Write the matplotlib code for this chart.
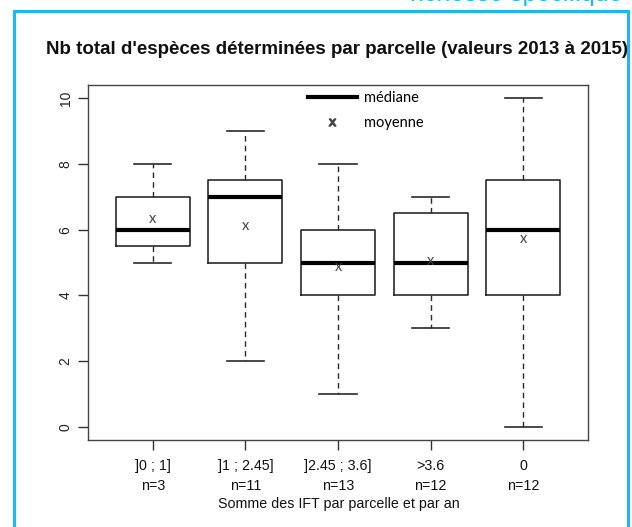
import matplotlib
matplotlib.use("Agg")
import matplotlib.pyplot as plt
from matplotlib.patches import Rectangle
from matplotlib.lines import Line2D

# IFT classes and their box statistics
classes = ["]0 ; 1]", "]1 ; 2.45]", "]2.45 ; 3.6]", ">3.6", "0"]
counts = [3, 11, 13, 12, 12]
whisker_low = [5, 2, 1, 3, 0]
q1 = [5.5, 5, 4, 4, 4]
medians = [6, 7, 5, 5, 6]
q3 = [7, 7.5, 6, 6.5, 7.5]
whisker_high = [8, 9, 8, 7, 10]
means = [6.33, 6.12, 4.85, 5.05, 5.7]

W, H = 632, 527
fig = plt.figure(figsize=(W / 100, H / 100), dpi=100)
fig.patch.set_facecolor("white")

# cyan frame of the slide
fig.patches.append(Rectangle((14 / W, -0.05), (628 - 14) / W, (H - 11) / H + 0.05,
                             transform=fig.transFigure, fill=False,
                             edgecolor="#1cb8f0", lw=2.2))
fig.text(410 / W, (H - 0.6) / H, "richesse spécifique", color="#1cb8f0",
         fontsize=18, family="Liberation Sans", ha="left", va="baseline")

ax = fig.add_axes([88 / W, (H - 440) / H, (588 - 88) / W, (440 - 85) / H])

stats = []
for i in range(len(classes)):
    stats.append({"whislo": whisker_low[i], "q1": q1[i], "med": medians[i],
                  "q3": q3[i], "whishi": whisker_high[i], "fliers": []})

box_col = "#2a2a2a"
ax.bxp(stats, positions=range(1, len(classes) + 1), widths=0.8,
       showfliers=False, patch_artist=False,
       boxprops=dict(color=box_col, lw=1.2),
       whiskerprops=dict(color=box_col, lw=1.0, ls=(0, (4, 3))),
       capprops=dict(color=box_col, lw=1.2),
       medianprops=dict(color="black", lw=3.0))
# caps are half the box width
for line in ax.lines:
    xd = line.get_xdata()
    if len(xd) == 2 and xd[0] != xd[1]:
        yd = line.get_ydata()
        if yd[0] == yd[1] and abs(xd[1] - xd[0]) < 0.5:
            c = (xd[0] + xd[1]) / 2
            line.set_xdata([c - 0.2, c + 0.2])

for i, m in enumerate(means):
    ax.text(i + 1, m, "x", ha="center", va="center", fontsize=10.5,
            family="Lato", color="#444444")

ax.set_xlim(0.3, 5.7)
ax.set_ylim(-0.4, 10.4)
ax.set_yticks([0, 2, 4, 6, 8, 10])
ax.set_yticklabels(["0", "2", "4", "6", "8", "10"], rotation=90, va="center",
                   family="Liberation Sans", fontsize=10, color="#222222")
ax.set_xticks(range(1, len(classes) + 1))
ax.set_xticklabels([f"{c}\nn={n}" for c, n in zip(classes, counts)],
                   family="Liberation Sans", fontsize=10.3, linespacing=1.5,
                   color="#111111")
ax.tick_params(axis="both", length=7, width=1.0, color="#333333", pad=7)
ax.tick_params(axis="y", pad=4)
for s in ax.spines.values():
    s.set_color("#444444")
    s.set_linewidth(1.0)

fig.text(339 / W, 1 - 504 / H, "Somme des IFT par parcelle et par an",
         ha="center", va="center", family="Liberation Sans", fontsize=10.3,
         color="#111111")
fig.text(337 / W, 1 - 49 / H,
         "Nb total d'espèces déterminées par parcelle (valeurs 2013 à 2015)",
         ha="center", va="center", family="Liberation Sans", weight="bold",
         fontsize=13.5, color="#111111")

handles = [Line2D([], [], color="black", lw=3),
           Line2D([], [], ls="none", marker="$\\mathregular{x}$", color="#444444",
                  markersize=5)]
ax.legend(handles, ["médiane", "moyenne"], loc="upper left",
          bbox_to_anchor=(0.413, 1.02), frameon=False, handlelength=3.4,
          prop={"family": "Lato", "size": 10.5}, labelspacing=0.75,
          handletextpad=0.45)

fig.savefig("out.png", dpi=100)
